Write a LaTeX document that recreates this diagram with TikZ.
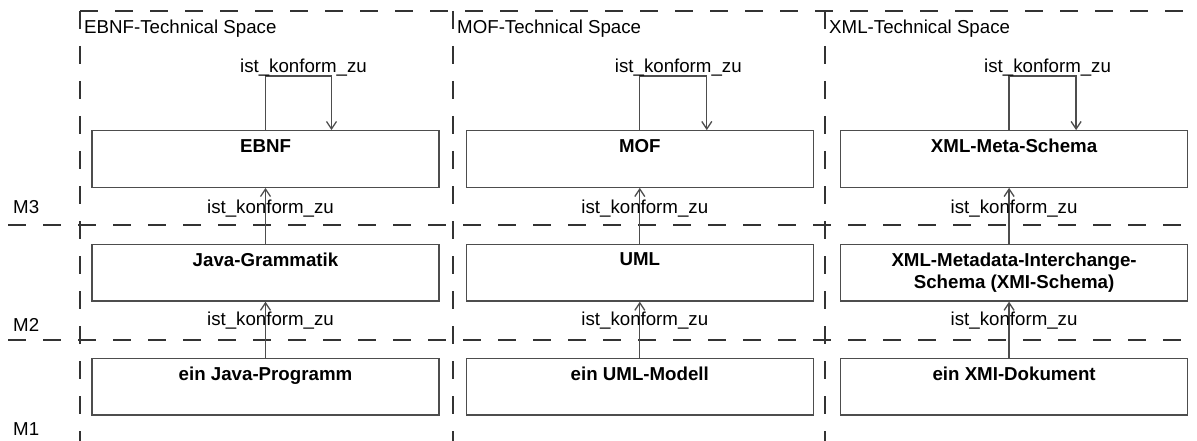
\documentclass[tikz,border=0pt]{standalone}
\usepackage{fontspec}
\setmainfont{Liberation Sans}
\usepackage{tikz}
\usetikzlibrary{arrows.meta,positioning}

\definecolor{linegray}{HTML}{4D4D4D}
\definecolor{framegray}{HTML}{333333}

\begin{document}
\begin{tikzpicture}[
    x=1pt, y=1pt,
    node distance=56pt and 26pt,
    every node/.style={font=\fontsize{18.7}{22}\selectfont},
    box/.style={rectangle, draw=linegray, line width=1.3pt, minimum width=347pt, minimum height=56.5pt, inner sep=0pt},
    boxtext/.style={anchor=north, inner sep=0pt, inner ysep=9pt, align=center, font=\fontsize{18.7}{22}\selectfont\bfseries},
    conf/.style={-{Straight Barb[length=7.5pt, width=10pt]}, line width=1.3pt, draw=linegray},
    konf/.style={anchor=base, inner sep=0pt, xshift=5pt},
    lane/.style={draw=framegray, line width=1.6pt, dash pattern=on 18pt off 17pt},
    spacetitle/.style={anchor=north west, inner xsep=4pt, inner ysep=9pt},
    level/.style={anchor=base west, inner sep=0pt}
]
    \useasboundingbox (0,0) rectangle (1197,-441);

    % technical spaces and meta levels
    \draw[lane] (80,-11) -- (1197,-11);
    \draw[lane] (80,-11) -- (80,-441);
    \draw[lane] (453,-11) -- (453,-441);
    \draw[lane] (825,-11) -- (825,-441);
    \draw[lane] (8,-225) -- (1197,-225);
    \draw[lane] (8,-340) -- (1197,-340);

    \node[spacetitle] (ebnfspace) at (80,-11) {EBNF-Technical Space};
    \node[spacetitle] (mofspace) at (453,-11) {MOF-Technical Space};
    \node[spacetitle] (xmlspace) at (825,-11) {XML-Technical Space};

    \node[level] (m3) at (13,-213.5) {M3};
    \node[level] (m2) at (13,-331.5) {M2};
    \node[level] (m1) at (13,-435) {M1};

    % M3
    \node[box, label={[boxtext]north:EBNF}] (ebnf) at (265.5,-159) {};
    \node[box, right=of ebnf, label={[boxtext]north:MOF}] (mof) {};
    \node[box, right=of mof, label={[boxtext]north:XML-Meta-Schema}] (xmlmeta) {};
    % M2
    \node[box, below=of ebnf, label={[boxtext]north:Java-Grammatik}] (javagr) {};
    \node[box, below=of mof, label={[boxtext]north:UML}] (uml) {};
    \node[box, below=of xmlmeta, label={[boxtext]north:{XML-Metadata-Interchange-\\Schema (XMI-Schema)}}] (xmi) {};
    % M1
    \node[box, below=of javagr, label={[boxtext]north:ein Java-Programm}] (javaprog) {};
    \node[box, below=of uml, label={[boxtext]north:ein UML-Modell}] (umlmodell) {};
    \node[box, below=of xmi, label={[boxtext]north:ein XMI-Dokument}] (xmidoc) {};

    % conformance
    \draw[conf] (ebnf.north) -- ++(0,54) -| node[konf, pos=0.25, yshift=4pt] {ist\_konform\_zu} ([xshift=66pt]ebnf.north);
    \draw[conf] (mof.north) -- ++(0,54) -| node[konf, pos=0.25, yshift=4pt] {ist\_konform\_zu} ([xshift=67pt]mof.north);
    \draw[conf] ([xshift=-5pt]xmlmeta.north) -- ++(0,54) -| node[konf, pos=0.25, yshift=4pt] {ist\_konform\_zu} ([xshift=62pt]xmlmeta.north);

    \draw[conf] (javagr.north) -- node[konf, pos=0.55] {ist\_konform\_zu} (ebnf.south);
    \draw[conf] (uml.north) -- node[konf, pos=0.55] {ist\_konform\_zu} (mof.south);
    \draw[conf] ([xshift=-5pt]xmi.north) -- node[konf, pos=0.55] {ist\_konform\_zu} ([xshift=-5pt]xmlmeta.south);

    \draw[conf] (javaprog.north) -- node[konf, pos=0.58] {ist\_konform\_zu} (javagr.south);
    \draw[conf] (umlmodell.north) -- node[konf, pos=0.58] {ist\_konform\_zu} (uml.south);
    \draw[conf] ([xshift=-5pt]xmidoc.north) -- node[konf, pos=0.58] {ist\_konform\_zu} ([xshift=-5pt]xmi.south);
\end{tikzpicture}
\end{document}
